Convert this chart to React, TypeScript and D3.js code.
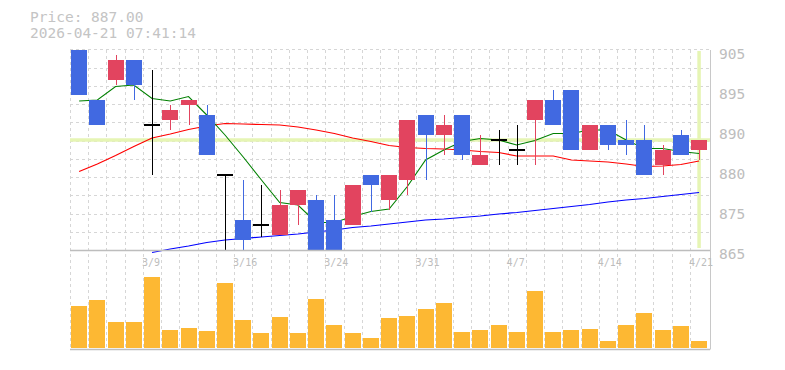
import React, { useEffect } from "react";
import * as d3 from "d3";

const dates = ["3/3","3/4","3/5","3/6","3/9","3/10","3/11","3/12","3/13","3/16","3/17","3/18","3/19","3/23","3/24","3/25","3/26","3/27","3/30","3/31","4/1","4/2","4/3","4/6","4/7","4/8","4/9","4/10","4/13","4/14","4/15","4/16","4/17","4/20","4/21"];
const tickIdx = [4, 9, 14, 19, 24, 29, 34];

const opens  = [905,895,899,903,890,891,894,892,880,871,870,868,874,875,871,870,880,875,879,892,888,892,882,887,885,891,895,897,885,890,887,887,882,888,885];
const highs  = [905,895,904,903,901,894,895,894,880,879,878,877,877,876,876,878,880,880,891,892,892,892,888,889,890,895,897,897,890,890,891,890,886,889,887];
const lows   = [896,890,898,895,880,889,890,884,865,865,867.7,868,870,865,865,870,872.7,873,876,879,884,883,882,882,882,882,890,885,885,885,884,880,880,884,883];
const closes = [896,890,903,898,890,893,895,884,880,867,870,874,877,865,865,878,878,880,891,888,890,884,884,887,885,895,890,885,890,886,886,880,885,884,887];

const volumes = [42,48,26,26,71,18,20,17,65,28,15,31,15,49,23,15,10,30,32,39,45,16,18,23,16,57,16,18,19,7,23,35,18,22,7].map(v => v * 1000);

const ma5  = [894.8,895,897.7,898,895.3,894.8,895.7,892,888,883.6,879,874.5,874,870.5,870.5,871.7,872.7,873.2,877.7,883,885,886.7,887.3,887,886,886.9,888.3,888.3,889,889,887,885.3,885.3,884.7,884.3];
const ma25 = [880.7,882.2,883.9,885.7,887.4,888.2,889.1,889.8,890.3,890.2,890.1,890,889.6,889,888.3,887.4,886.7,885.9,885.5,885.3,885.2,885,884.7,884.5,883.8,883.8,883.8,883,882.8,882.6,882.2,881.7,881.8,882.1,882.8];
const ma75: (number | null)[] = [null,null,null,null,864.5,865.2,865.8,866.5,867,867.3,867.6,867.9,868.2,868.6,869,869.5,869.8,870.2,870.6,871,871.2,871.5,871.8,872.2,872.5,872.9,873.3,873.7,874.1,874.6,875,875.3,875.7,876.1,876.5];

const priceTicks = [905, 897, 889, 881, 873, 865];
const priceTickLabels = ["905", "895", "890", "880", "875", "865"];

const lastPrice = 887;
const headerLines = ["Price: 887.00", "2026-04-21 07:41:14"];

const W = 785, H = 370;
const L = 70, R = 708.2;
const PT = 50, PB = 250, VB = 348;

export default function App() {
  useEffect(() => {
    document.body.style.margin = "0";
  }, []);

  const x = d3.scaleBand<number>().domain(d3.range(dates.length)).range([L, R]).padding(0);
  const step = x.step();
  const cx = (i: number) => (x(i) as number) + step / 2;
  const y = d3.scaleLinear().domain([865, 905]).range([PB, PT]);
  const yv = d3.scaleLinear().domain([0, 98000]).range([VB, 250]);

  const bw = 16;
  const off = (step - bw) / 2;

  const line = d3.line<number>().x((_, i) => cx(i)).y(d => y(d));
  const line75 = d3.line<number | null>().defined(d => d !== null).x((_, i) => cx(i)).y(d => y(d as number));

  const gridColor = "#d6d6d6";
  const hLines = d3.range(1, 12).map(k => PB - k * step);
  const vLines = d3.range(0, dates.length).map(i => x(i) as number);
  const up = "#e2445f", down = "#4169e1";
  const hl = "#e6f5b4";
  const font = "'DejaVu Sans Mono', monospace";

  return (
    <svg width={W} height={H} style={{ display: "block", background: "#fff" }}>
      {/* header */}
      {headerLines.map((t, i) => (
        <text key={t} x={30} y={22 + i * 15.5} fontFamily={font} fontSize={14.5} fill="#c4c4c4">{t}</text>
      ))}
      {/* grid */}
      {hLines.map((yy, i) => (
        <line key={"h" + i} x1={L} x2={710} y1={Math.round(yy) + 0.5} y2={Math.round(yy) + 0.5} stroke={gridColor} strokeDasharray="3,3" />
      ))}
      {vLines.map((xx, i) => (
        <line key={"v" + i} x1={Math.round(xx) + 0.5} x2={Math.round(xx) + 0.5} y1={PT} y2={VB + 1} stroke={gridColor} strokeDasharray="3,3" />
      ))}
      {/* highlight */}
      <line x1={L} x2={710} y1={y(lastPrice)} y2={y(lastPrice)} stroke={hl} strokeWidth={3.5} />
      <line x1={cx(34)} x2={cx(34)} y1={PT + 1} y2={PB - 2} stroke={hl} strokeWidth={3.5} />
      {/* MAs */}
      <path d={line75(ma75) || ""} fill="none" stroke="#0000ff" strokeWidth={1.2} />
      <path d={line(ma25) || ""} fill="none" stroke="#ff0000" strokeWidth={1.2} />
      <path d={line(ma5) || ""} fill="none" stroke="#008000" strokeWidth={1.1} />
      {/* candles */}
      {dates.map((_, i) => {
        const o = opens[i], c = closes[i], h = highs[i], l = lows[i];
        const bx = (x(i) as number) + off;
        const mx = Math.round(cx(i)) + 0.5;
        if (o === c) {
          return (
            <g key={"c" + i} stroke="#000" strokeWidth={1.2} shapeRendering="crispEdges">
              <line x1={mx} x2={mx} y1={y(h)} y2={y(l)} />
              <line x1={bx} x2={bx + bw} y1={y(o)} y2={y(o)} />
            </g>
          );
        }
        const col = c > o ? up : down;
        const top = y(Math.max(o, c)), bot = y(Math.min(o, c));
        return (
          <g key={"c" + i} shapeRendering="crispEdges">
            <line x1={mx} x2={mx} y1={y(h)} y2={y(l)} stroke={col} strokeWidth={1.5} />
            <rect x={bx} y={top} width={bw} height={Math.max(1, bot - top)} fill={col} />
          </g>
        );
      })}
      {/* volume */}
      {volumes.map((v, i) => (
        <rect key={"vol" + i} x={(x(i) as number) + off} y={yv(v)} width={bw} height={VB - yv(v)} fill="#fdb833" shapeRendering="crispEdges" />
      ))}
      {/* axes */}
      <line x1={L} x2={710} y1={PB + 0.5} y2={PB + 0.5} stroke="#bdbdbd" strokeWidth={1.5} />
      <line x1={L} x2={710} y1={VB + 1.5} y2={VB + 1.5} stroke="#bdbdbd" strokeWidth={1.5} />
      <line x1={710.5} x2={710.5} y1={PT} y2={VB + 1.5} stroke="#c8c8c8" strokeWidth={1} />
      {/* y labels */}
      {priceTicks.map((t, i) => (
        <text key={"yl" + i} x={719} y={y(t) + 8.5} fontFamily={font} fontSize={14.5} fill="#bdbdbd">{priceTickLabels[i]}</text>
      ))}
      {/* x labels */}
      {tickIdx.map(i => (
        <text key={"xl" + i} x={(x(i) as number) - 1} y={266} fontFamily={font} fontSize={10} fill="#bdbdbd">{dates[i]}</text>
      ))}
    </svg>
  );
}
